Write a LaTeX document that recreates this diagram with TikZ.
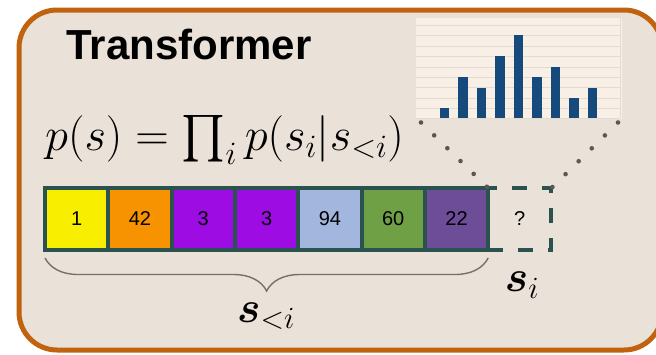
\RequirePackage{fix-cm}
\documentclass[tikz,border=0pt]{standalone}
\usepackage{amsmath}
\usepackage{fontspec}
\setsansfont{Liberation Sans}
\DeclareFontShape{OMX}{cmex}{m}{n}{<-> cmex10}{}
\usetikzlibrary{positioning,decorations.pathreplacing}
\definecolor{Frame}{HTML}{C0620E}
\definecolor{Paper}{HTML}{EAE1D8}
\definecolor{Teal}{HTML}{2A5350}
\definecolor{Bar}{HTML}{164A7C}
\definecolor{Grid}{HTML}{E6D9CD}
\definecolor{Plot}{HTML}{F8EFE6}
\definecolor{Dots}{HTML}{5E5650}
\definecolor{Yellow}{HTML}{F7EE00}
\definecolor{Orange}{HTML}{F79300}
\definecolor{Violet}{HTML}{9D0CE3}
\definecolor{Sky}{HTML}{A3B6DD}
\definecolor{Green}{HTML}{6FA046}
\definecolor{Plum}{HTML}{6D4C98}

\begin{document}
\begin{tikzpicture}[x=1pt,y=-1pt,
  cell/.style={draw=Teal,line width=4pt,outer sep=0pt,inner sep=0pt,minimum width=63.3pt,minimum height=62pt,font=\sffamily\fontsize{20}{20}\selectfont},
  frame/.style={draw=Frame,fill=Paper,line width=5pt,rounded corners=38pt},
  dots/.style={draw=Dots,line width=4.6pt,line cap=round,dash pattern=on 0pt off 18.4pt},
  brace/.style={draw=Dots!85,line width=1.4pt,decorate,decoration={brace,mirror,amplitude=33pt}},
  bigmath/.style={font=\fontsize{44}{48}\selectfont,inner sep=0pt}
]
\useasboundingbox (0,0) rectangle (656,354);
\draw[frame] (19,10) rectangle (662,350);
\node[font=\sffamily\bfseries\fontsize{42}{42}\selectfont] (title) at (189,44) {Transformer};
\node[bigmath,font=\fontsize{46.5}{50}\selectfont,anchor=west] (law) at (45,140) {$p(s)=\prod_i p(s_i|s_{<i})$};
% output distribution
\node[fill=Plot,minimum width=206pt,minimum height=101pt,inner sep=0pt,outer sep=0pt] (chart) at (519,68) {};
\foreach \g in {25,35.5,46,56.5,67,77,87.5,98,108.5,118}
  \draw[Grid,line width=1pt] (416,\g) -- (620,\g);
\draw[Grid,line width=1pt] (620,17) -- (620,118);
\foreach \h [count=\k] in {10,41,30,62,83,41,51,20,30}
  \fill[Bar] (439.5+18.5*\k-18.5,118) rectangle ++(9.5,-\h);
% tokens
\node[cell,fill=Yellow] (c1) at (76.7,219) {1};
\node[cell,fill=Orange,right=0pt of c1] (c2) {42};
\node[cell,fill=Violet,right=0pt of c2] (c3) {3};
\node[cell,fill=Violet,right=0pt of c3] (c4) {3};
\node[cell,fill=Sky,right=0pt of c4] (c5) {94};
\node[cell,fill=Green,right=0pt of c5] (c6) {60};
\node[cell,fill=Plum,right=0pt of c6] (c7) {22};
\node[cell,dash pattern=on 15pt off 15pt,right=0pt of c7] (next) {?};
\coordinate (dl) at (421,122.5);
\coordinate (dr) at (618,122.5);
\draw[dots] (dl) -- (c7.north east);
\draw[dots] (dr) -- (next.north east);
\draw[brace] ([yshift=-8pt]c1.south west) -- ([yshift=-8pt]c7.south east);
\node[bigmath] (prev) at (266,316) {$\boldsymbol{s}_{<i}$};
\node[bigmath] (cur) at (522,285) {$\boldsymbol{s}_i$};
\end{tikzpicture}
\end{document}
